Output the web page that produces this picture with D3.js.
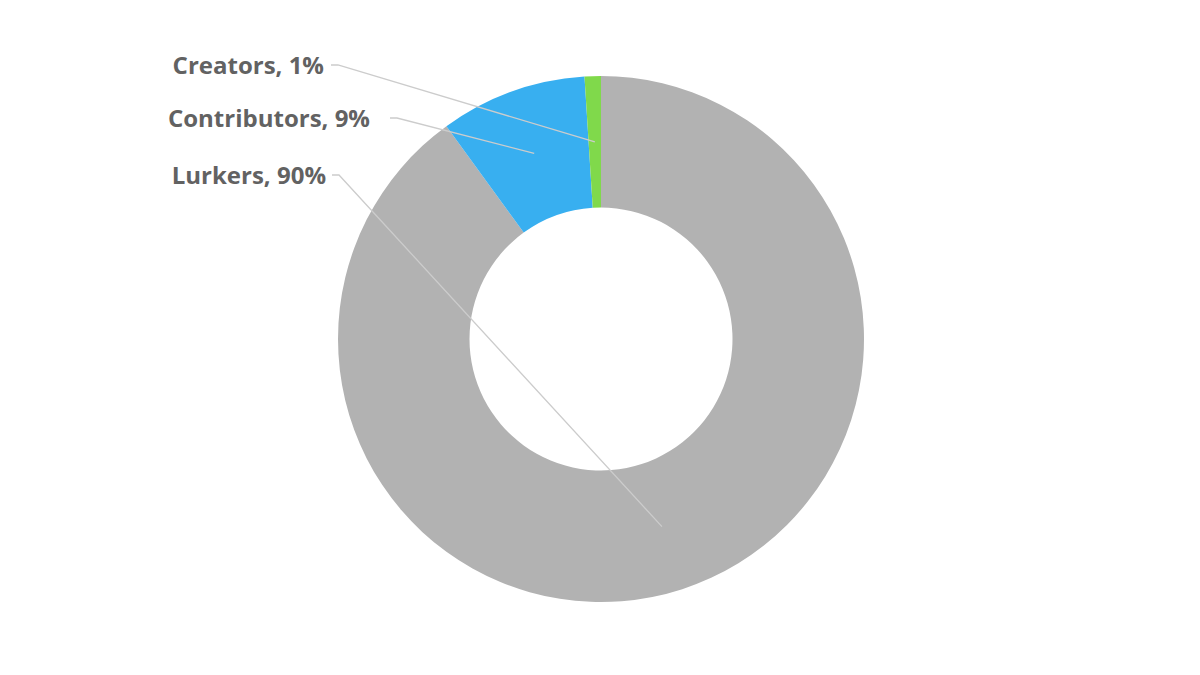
<!DOCTYPE html>
<html>
<head>
<meta charset="utf-8">
<script src="https://cdn.jsdelivr.net/npm/d3@7/dist/d3.min.js"></script>
<style>
  html, body { margin: 0; padding: 0; background: #fff; }
  svg { display: block; }
</style>
</head>
<body>
<svg id="chart" width="1200" height="675"></svg>
<script>
// Data
const categories = ["Lurkers", "Contributors", "Creators"];
const values = [90, 9, 1];
const colors = ["#b2b2b2", "#38aff0", "#80d94b"];

// Layout (not data)
const W = 1200, H = 675;
const cx = 601, cy = 339;
const outerR = 263, innerR = 131.5;
// leader start point [x, y] and text right edge x
const labelLayout = {
  "Lurkers": { line: [332, 175], textEnd: 326 },
  "Contributors": { line: [390, 118], textEnd: 370 },
  "Creators": { line: [331, 65], textEnd: 324 }
};

const svg = d3.select("#chart");
const g = svg.append("g").attr("transform", `translate(${cx},${cy})`);

const data = categories.map((c, i) => ({ name: c, value: values[i], color: colors[i] }));

const pie = d3.pie().value(d => d.value).sort(null);
const arc = d3.arc().innerRadius(innerR).outerRadius(outerR);
const midArc = d3.arc().innerRadius((innerR + outerR) / 2).outerRadius((innerR + outerR) / 2);

const arcs = pie(data);

g.selectAll("path.slice")
  .data(arcs)
  .join("path")
  .attr("class", "slice")
  .attr("d", arc)
  .attr("fill", d => d.data.color);

// Leader lines and labels
const lines = svg.append("g");
arcs.forEach(a => {
  const L = labelLayout[a.data.name];
  const [lx, ly] = L.line;
  const c = midArc.centroid(a);
  const ex = cx + c[0], ey = cy + c[1];
  lines.append("polyline")
    .attr("points", `${lx},${ly} ${lx + 7},${ly} ${ex},${ey}`)
    .attr("fill", "none")
    .attr("stroke", "#cccccc")
    .attr("stroke-width", 1.3);
  svg.append("text")
    .attr("x", L.textEnd)
    .attr("y", ly + 9)
    .attr("text-anchor", "end")
    .attr("font-family", "'Open Sans', sans-serif")
    .attr("font-weight", "bold")
    .attr("font-size", 24)
    .attr("fill", "#626262")
    .text(`${a.data.name}, ${a.data.value}%`);
});
</script>
</body>
</html>
